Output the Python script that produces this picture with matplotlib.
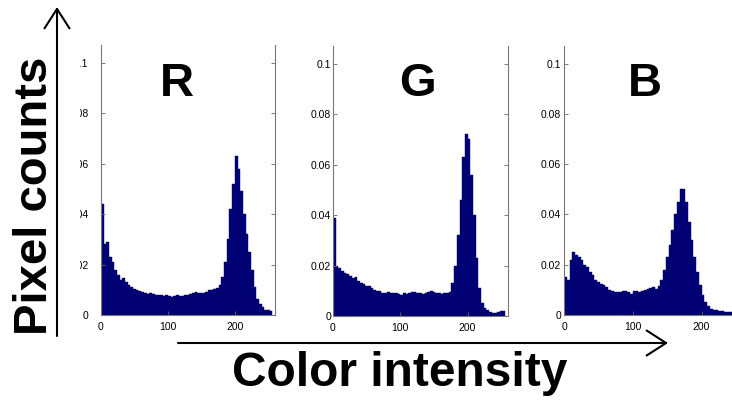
import numpy as np
import matplotlib
matplotlib.use("Agg")
import matplotlib.pyplot as plt
from matplotlib.patches import Rectangle

plt.rcParams["font.family"] = ["Liberation Sans", "DejaVu Sans"]

# 64 bins of width 4 over 0..256, normalised pixel counts
bin_edges = np.arange(0, 257, 4)

red_counts = [
    0.044, 0.028, 0.029, 0.023, 0.021, 0.018, 0.016, 0.014,
    0.0145, 0.013, 0.012, 0.011, 0.0105, 0.010, 0.0095, 0.009,
    0.0088, 0.0085, 0.0088, 0.0082, 0.008, 0.008, 0.0078, 0.0075,
    0.0078, 0.0077, 0.0072, 0.0074, 0.0078, 0.0075, 0.0076, 0.008,
    0.008, 0.0085, 0.0088, 0.009, 0.0088, 0.0087, 0.0087, 0.0092,
    0.0098, 0.010, 0.0105, 0.0108, 0.012, 0.015, 0.021, 0.030,
    0.042, 0.052, 0.063, 0.058, 0.049, 0.040, 0.032, 0.025,
    0.018, 0.011, 0.0065, 0.0045, 0.003, 0.002, 0.002, 0.0015,
]
green_counts = [
    0.039, 0.020, 0.019, 0.018, 0.017, 0.0165, 0.016, 0.015,
    0.0155, 0.014, 0.013, 0.0125, 0.012, 0.0118, 0.011, 0.0105,
    0.010, 0.0098, 0.0092, 0.009, 0.0095, 0.009, 0.0092, 0.009,
    0.0088, 0.0085, 0.009, 0.0088, 0.0092, 0.0095, 0.0095, 0.0093,
    0.009, 0.0088, 0.0092, 0.0095, 0.0098, 0.0095, 0.009, 0.0092,
    0.0088, 0.0092, 0.009, 0.0095, 0.013, 0.020, 0.032, 0.046,
    0.063, 0.072, 0.070, 0.056, 0.040, 0.023, 0.011, 0.005,
    0.003, 0.0025, 0.0015, 0.0012, 0.0012, 0.0015, 0.002, 0.002,
]
blue_counts = [
    0.015, 0.014, 0.022, 0.025, 0.024, 0.023, 0.022, 0.020,
    0.019, 0.017, 0.016, 0.014, 0.013, 0.0125, 0.012, 0.011,
    0.010, 0.0095, 0.009, 0.009, 0.0092, 0.0095, 0.0095, 0.009,
    0.0085, 0.0095, 0.0095, 0.0093, 0.0095, 0.010, 0.0105, 0.0108,
    0.011, 0.0105, 0.0115, 0.014, 0.018, 0.023, 0.028, 0.034,
    0.040, 0.045, 0.050, 0.050, 0.045, 0.037, 0.030, 0.023,
    0.017, 0.012, 0.008, 0.005, 0.0035, 0.0025, 0.002, 0.0018,
    0.0015, 0.0015, 0.0012, 0.0012, 0.0012, 0.001, 0.001, 0.001,
]

channels = ["R", "G", "B"]
yticks = [0, 0.02, 0.04, 0.06, 0.08, 0.1]
ytick_labels = ["0", "0.02", "0.04", "0.06", "0.08", "0.1"]
xticks = [0, 100, 200]

W, H = 732, 401
fig = plt.figure(figsize=(W / 100, H / 100), dpi=100)


def frac(x, y):
    """Pixel position (from top-left) to figure fraction."""
    return x / W, 1 - y / H


# panel boxes in pixels: left, right, top, bottom, x max, label pad
panels = [
    (101, 275, 45, 315, 260, 9.0),
    (333, 508, 46, 316, 260, 1.5),
    (564, 736, 46, 315, 250, 2.0),
]
counts = [red_counts, green_counts, blue_counts]
label_x = [177, 417, 645]

for (l, r, t, b, xmax, pad), vals, name, lx in zip(panels, counts, channels, label_x):
    ax = fig.add_axes([l / W, 1 - b / H, (r - l) / W, (b - t) / H])
    ax.bar(bin_edges[:-1], vals, width=4, align="edge",
           color="#00007f", edgecolor="#000050", linewidth=0.3)
    ax.set_xlim(0, xmax)
    ax.set_ylim(0, 0.107)
    ax.set_yticks(yticks)
    ax.set_yticklabels(ytick_labels)
    ax.set_xticks(xticks)
    ax.tick_params(direction="in", length=3, width=0.6, color="#666666",
                   labelsize=7.5, right=True)
    ax.tick_params(axis="y", pad=pad)
    ax.tick_params(axis="x", pad=5)
    ax.spines["top"].set_visible(False)
    for side in ("left", "right", "bottom"):
        ax.spines[side].set_color("#777777")
        ax.spines[side].set_linewidth(0.8)
    fx, fy = frac(lx, 84)
    fig.text(fx, fy, name, fontsize=34, fontweight="bold",
             ha="center", va="center")

# the left panel is cropped: hide the start of its tick labels
x0, y0 = frac(61, 335)
x1, y1 = frac(80, 35)
fig.patches.append(Rectangle((x0, y0), x1 - x0, y1 - y0, transform=fig.transFigure,
                             facecolor="white", edgecolor="none", zorder=5))

# axis arrows and their titles, placed in pixel units
arrow = dict(arrowstyle="->,head_length=0.7,head_width=0.45", color="black",
             lw=1.5, mutation_scale=20, shrinkA=0, shrinkB=0)
ax_over = fig.add_axes([0, 0, 1, 1], facecolor="none")
ax_over.set_axis_off()
ax_over.set_xlim(0, W)
ax_over.set_ylim(H, 0)
ax_over.annotate("", xy=(57, 7), xytext=(57, 336), arrowprops=arrow)
ax_over.annotate("", xy=(668, 343), xytext=(178, 343), arrowprops=arrow)
ax_over.text(35, 196, "Pixel counts", rotation=90, fontsize=34,
             fontweight="bold", ha="center", va="center")
ax_over.text(400, 373, "Color intensity", fontsize=34.5,
             fontweight="bold", ha="center", va="center")

fig.savefig("out.png", dpi=100)
